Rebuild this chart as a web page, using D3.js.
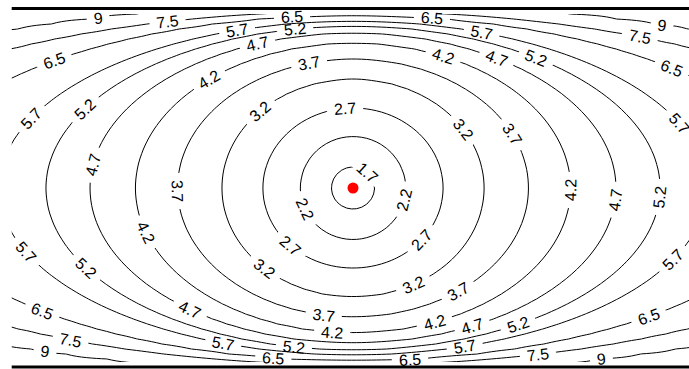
<!DOCTYPE html>
<html>
<head>
<meta charset="utf-8">
<script src="https://cdn.jsdelivr.net/npm/d3@7"></script>
<style>
  html, body { margin: 0; padding: 0; background: #fff; }
  svg { display: block; }
</style>
</head>
<body>
<svg id="chart" width="689" height="369"></svg>
<script>
// Contour levels and the half-axes of each level's closed curve (plot units)
const levels     = [1.7, 2.2, 2.7, 3.2, 3.7, 4.2, 4.7, 5.2, 5.7, 6.5, 7.5, 9];
const halfWidth  = [0.215, 0.525, 0.90, 1.31, 1.755, 2.175, 2.63, 3.07, 3.54, 4.42, 5.57, 6.65];
const halfHeight = [0.21, 0.515, 0.80, 1.09, 1.29, 1.45, 1.55, 1.62, 1.67, 1.73, 1.765, 1.84];
// Location and value of the minimum (marked with the red point)
const minimumX = 0, minimumY = 0, minimumValue = 1.35;
// Plot extent in plot units
const xExtent = [-3.413, 3.36];
const yExtent = [-1.74, 1.74];

// Label placement: [level, direction from the minimum in degrees, clockwise from east]
const labelSpots = [
  [9, -146.3], [7.5, -138.1], [5.7, -126.3], [6.5, -109.6], [5.2, -110.0], [4.7, -123.5],
  [6.5, -65.1], [5.7, -50.4], [4.7, -42.1], [5.2, -35.4], [4.2, -55.6], [9, -27.8],
  [7.5, -27.8], [6.5, -20.6], [5.7, -11.2], [6.5, -156.9], [5.7, -167.8], [5.2, -163.6],
  [4.2, -143], [3.7, -109.4], [3.2, -140.5], [2.7, -95.7], [3.2, -28], [3.7, -18.7],
  [4.2, 0.5], [4.7, 2.6], [5.2, 1.7], [4.7, -174.9], [3.7, 179], [4.2, 167.9],
  [2.2, 156.3], [1.7, -47], [2.2, 13], [2.7, 137.4], [2.7, 37.1], [3.2, 137.7],
  [3.2, 58], [3.7, 44.5], [3.7, 103], [4.2, 98.2], [4.2, 58.7], [5.2, 110.4],
  [6.5, 115.1], [6.5, 71.6], [4.7, 143.3], [5.2, 163.3], [5.7, 168.9], [6.5, 158.4],
  [7.5, 151.7], [9, 152.1], [5.7, 129.9], [4.7, 49.2], [5.2, 39.6], [5.7, 54.8],
  [7.5, 42], [9, 34.5], [6.5, 23.5], [5.7, 12.6]
];

const svg = d3.select("#chart");
const W = 689, H = 369;

const x = d3.scaleLinear().domain(xExtent).range([11.7, 689]);
const y = d3.scaleLinear().domain(yExtent).range([362, 14]);

// ---- scalar field: each point takes the level whose ellipse passes through it
const T = [minimumValue, ...levels];
const A = [1e-6, ...halfWidth];
const B = [1e-6, ...halfHeight];
function axesAt(t) {
  let k = d3.bisectRight(T, t) - 1;
  k = Math.max(0, Math.min(T.length - 2, k));
  const f = (t - T[k]) / (T[k + 1] - T[k]);
  return [A[k] + f * (A[k + 1] - A[k]), B[k] + f * (B[k + 1] - B[k])];
}
function q(px, py, t) {
  const [a, b] = axesAt(t);
  return (px / a) ** 2 + (py / b) ** 2;
}
function fieldValue(px, py) {
  const dx = px - minimumX, dy = py - minimumY;
  const tMax = T[T.length - 1];
  const qm = q(dx, dy, tMax);
  if (qm >= 1) return tMax + (Math.sqrt(qm) - 1) * 10;
  let lo = T[0], hi = tMax;
  for (let it = 0; it < 40; it++) {
    const mid = (lo + hi) / 2;
    if (q(dx, dy, mid) > 1) lo = mid; else hi = mid;
  }
  return (lo + hi) / 2;
}

// grid slightly larger than the plot so its border falls outside the clip
const step = 0.05;
const X0 = xExtent[0] - 2 * step;
const Ytop = yExtent[1] + 2 * step;
const nx = Math.ceil((xExtent[1] - xExtent[0] + 4 * step) / step) + 1;
const ny = Math.ceil((yExtent[1] - yExtent[0] + 4 * step) / step) + 1;
const values = new Array(nx * ny);
for (let j = 0; j < ny; j++) {
  for (let i = 0; i < nx; i++) {
    values[j * nx + i] = fieldValue(X0 + i * step, Ytop - j * step);
  }
}

const contours = d3.contours().size([nx, ny]).thresholds(levels)(values);
const toScreen = d3.geoTransform({
  point(gx, gy) {
    this.stream.point(x(X0 + (gx - 0.5) * step), y(Ytop - (gy - 0.5) * step));
  }
});
const path = d3.geoPath(toScreen);

const defs = svg.append("defs");
defs.append("clipPath").attr("id", "plotClip")
  .append("rect")
  .attr("x", x(xExtent[0])).attr("y", y(yExtent[1]))
  .attr("width", x(xExtent[1]) - x(xExtent[0]))
  .attr("height", y(yExtent[0]) - y(yExtent[1]));

// ---- labels: positioned on their ellipse, rotated along the curve
function ellipsePoint(li, deg) {
  const a = halfWidth[li], b = halfHeight[li];
  const p = deg * Math.PI / 180, c = Math.cos(p), s = Math.sin(p);
  const r = 1 / Math.sqrt((c / a) ** 2 + (s / b) ** 2);
  return [x(minimumX + r * c), y(minimumY - r * s)];
}
const labelData = labelSpots.map(([lev, deg]) => {
  const li = levels.indexOf(lev);
  const [px, py] = ellipsePoint(li, deg);
  const p1 = ellipsePoint(li, deg - 0.5), p2 = ellipsePoint(li, deg + 0.5);
  let ang = Math.atan2(p2[1] - p1[1], p2[0] - p1[0]) * 180 / Math.PI;
  while (ang > 90) ang -= 180;
  while (ang <= -90) ang += 180;
  return { level: lev, li, px, py, ang };
});

const linesG = svg.append("g").attr("clip-path", "url(#plotClip)");
const labelsG = svg.append("g")
  .attr("font-family", "'Liberation Sans', Arial, Helvetica, sans-serif")
  .attr("font-size", 16)
  .attr("fill", "#000");

const texts = labelsG.selectAll("text").data(labelData).join("text")
  .attr("text-anchor", "middle")
  .attr("dy", "0.36em")
  .attr("transform", d => `translate(${d.px},${d.py}) rotate(${d.ang})`)
  .text(d => String(d.level));
texts.each(function (d) { d.w = this.getComputedTextLength(); });

// one mask per level that opens a gap in the curve under each of its labels
levels.forEach((lev, li) => {
  const m = defs.append("mask").attr("id", "gap" + li)
    .attr("maskUnits", "userSpaceOnUse")
    .attr("x", 0).attr("y", 0).attr("width", W).attr("height", H);
  m.append("rect").attr("x", 0).attr("y", 0).attr("width", W).attr("height", H).attr("fill", "#fff");
  labelData.filter(d => d.li === li).forEach(d => {
    m.append("rect")
      .attr("x", -d.w / 2 - 7).attr("y", -6)
      .attr("width", d.w + 14).attr("height", 12)
      .attr("fill", "#000")
      .attr("transform", `translate(${d.px},${d.py}) rotate(${d.ang})`);
  });
});

linesG.selectAll("path").data(contours).join("path")
  .attr("d", path)
  .attr("fill", "none")
  .attr("stroke", "#000")
  .attr("stroke-width", 1)
  .attr("mask", d => `url(#gap${levels.indexOf(d.value)})`);

// heavy rules along the top and bottom of the plot
svg.append("g").selectAll("line").data([yExtent[1] + 0.054, yExtent[0] - 0.05]).join("line")
  .attr("x1", x(xExtent[0])).attr("x2", W)
  .attr("y1", d => y(d)).attr("y2", d => y(d))
  .attr("stroke", "#000").attr("stroke-width", 3);

// the minimum
svg.append("circle")
  .attr("cx", x(minimumX)).attr("cy", y(minimumY))
  .attr("r", 5.5).attr("fill", "#ff0000");
</script>
</body>
</html>
